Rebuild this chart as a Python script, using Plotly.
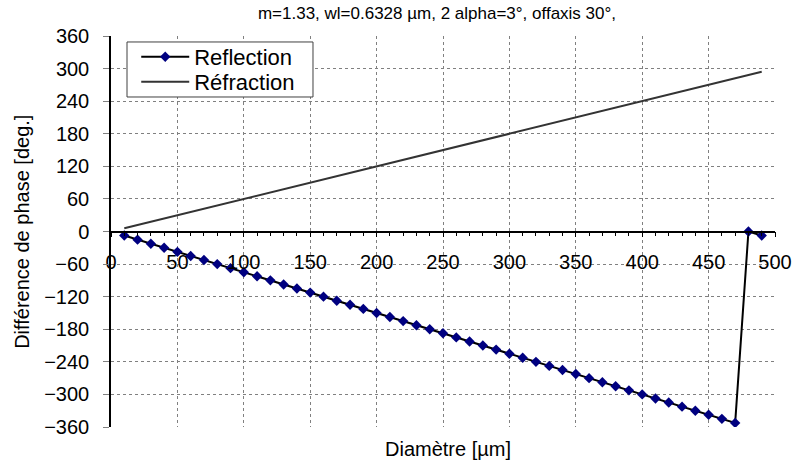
import plotly.graph_objects as go

diam_refl = [10, 20, 30, 40, 50, 60, 70, 80, 90, 100, 110, 120, 130, 140, 150, 160, 170, 180, 190, 200,
             210, 220, 230, 240, 250, 260, 270, 280, 290, 300, 310, 320, 330, 340, 350, 360, 370, 380, 390, 400,
             410, 420, 430, 440, 450, 460, 470, 480, 490]
reflection = [-7.5, -15, -22.5, -30, -37.5, -45, -52.5, -60, -67.5, -75, -82.5, -90, -97.5, -105, -112.5,
              -120, -127.5, -135, -142.5, -150, -157.5, -165, -172.5, -180, -187.5, -195, -202.5, -210,
              -217.5, -225, -232.5, -240, -247.5, -255, -262.5, -270, -277.5, -285, -292.5, -300, -307.5,
              -315, -322.5, -330, -337.5, -345, -352.5, 0, -7.5]
diam_refr = [10, 490]
refraction = [6, 294]

title_text = "m=1.33, wl=0.6328 µm, 2 alpha=3°, offaxis 30°,"
x_title = "Diamètre [µm]"
y_title = "Différence de phase [deg.]"

FONT = "Liberation Sans, Arial, sans-serif"

fig = go.Figure()
fig.add_trace(go.Scatter(x=diam_refl, y=reflection, mode="lines+markers", name="Reflection",
                         line=dict(color="#000000", width=2),
                         marker=dict(symbol="diamond", size=8, color="#000080"), legend="legend"))
fig.add_trace(go.Scatter(x=diam_refr, y=refraction, mode="lines", name="Réfraction",
                         line=dict(color="#333333", width=2), legend="legend2"))

leg_common = dict(xanchor="left", yanchor="top", bgcolor="rgba(0,0,0,0)", borderwidth=0,
                  font=dict(size=22, family=FONT), itemwidth=48)

fig.update_layout(
    width=804, height=463,
    margin=dict(l=111, r=29, t=36, b=36),
    paper_bgcolor="white", plot_bgcolor="white",
    font=dict(family=FONT, size=20, color="#000000"),
    title=dict(text=title_text, x=0.5435, xanchor="center", y=0.972, yanchor="middle",
               font=dict(size=17, family=FONT)),
    showlegend=True,
    legend=dict(x=0.038, y=1.0, **leg_common),
    legend2=dict(x=0.038, y=0.936, **leg_common),
    shapes=[dict(type="rect", xref="paper", yref="paper", x0=0.0241, x1=0.3042, y0=0.844, y1=0.9847,
                 line=dict(color="#404040", width=1), fillcolor="white", layer="above")],
    xaxis=dict(range=[0, 500], dtick=50, tick0=0, showgrid=True, gridcolor="#808080", griddash="dot",
               gridwidth=1, zeroline=False, showline=True, linecolor="#000000", linewidth=1.5,
               anchor="free", position=0.5, ticks="outside", ticklen=5, tickcolor="#000000",
               ticklabelstandoff=8, tickfont=dict(size=20),
               minor=dict(dtick=10, ticks="outside", ticklen=4, tickcolor="#000000", showgrid=False)),
    yaxis=dict(range=[-360, 360], dtick=60, tick0=0, showgrid=True, gridcolor="#808080", griddash="dot",
               gridwidth=1, zeroline=False, showline=True, linecolor="#000000", linewidth=1.5,
               ticks="outside", ticklen=6, tickcolor="#808080", ticklabelstandoff=10,
               tickfont=dict(size=20)),
    annotations=[
        dict(text=x_title, xref="paper", yref="paper", x=0.507, y=-0.056, xanchor="center", yanchor="middle",
             showarrow=False, font=dict(size=20, family=FONT)),
        dict(text=y_title, xref="paper", yref="paper", x=-0.135, y=0.5, xanchor="center", yanchor="middle",
             textangle=-90, showarrow=False, font=dict(size=20, family=FONT)),
    ],
)

fig.write_html("out.html", config={"displayModeBar": False},
               post_script="document.body.style.margin='0px';")
